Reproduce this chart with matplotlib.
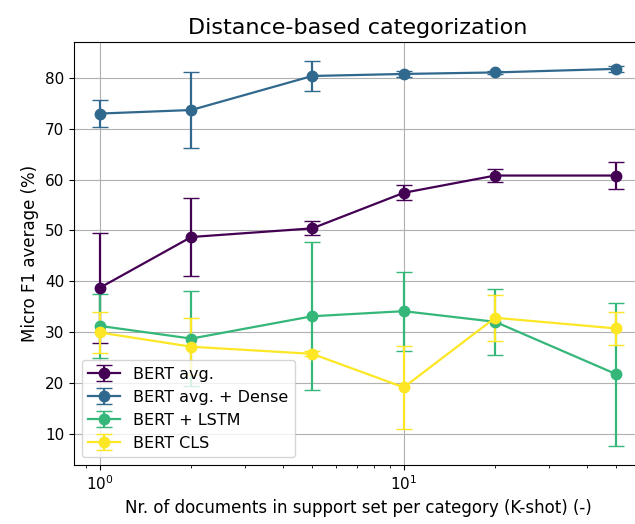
import numpy as np
import matplotlib
matplotlib.use("Agg")
import matplotlib.pyplot as plt

# k-shot values
kshot = [1, 2, 5, 10, 20, 50]

labels = ["BERT avg.", "BERT avg. + Dense", "BERT + LSTM", "BERT CLS"]

avg_mean = [38.7, 48.7, 50.4, 57.4, 60.8, 60.8]
avg_err = [10.8, 7.7, 1.4, 1.5, 1.2, 2.6]

dense_mean = [73.0, 73.7, 80.4, 80.8, 81.1, 81.8]
dense_err = [2.7, 7.5, 2.9, 0.6, 0.3, 0.6]

lstm_mean = [31.2, 28.7, 33.1, 34.1, 32.0, 21.7]
lstm_err = [6.3, 9.3, 14.6, 7.8, 6.5, 14.1]

cls_mean = [29.9, 27.1, 25.7, 19.1, 32.8, 30.7]
cls_err = [4.1, 5.6, 0.5, 8.1, 4.5, 3.3]

means = [avg_mean, dense_mean, lstm_mean, cls_mean]
errs = [avg_err, dense_err, lstm_err, cls_err]
colors = plt.cm.viridis(np.linspace(0, 1, 4))

fig = plt.figure(figsize=(6.35, 5.24), dpi=100)
ax = fig.add_axes([0.1165, 0.1126, 0.8945, 0.8072])

for m, e, c, lab in zip(means, errs, colors, labels):
    ax.errorbar(kshot, m, yerr=e, color=c, marker="o", markersize=7.5,
                capsize=6, linewidth=1.6, label=lab)

ax.set_xscale("log")
ax.grid(True)
ax.set_title("Distance-based categorization", fontsize=16)
ax.set_xlabel("Nr. of documents in support set per category (K-shot) (-)", fontsize=12)
ax.set_ylabel("Micro F1 average (%)", fontsize=12)
ax.tick_params(labelsize=11)
ax.legend(loc="lower left", fontsize=11.5)

fig.savefig("out.png", dpi=100)
